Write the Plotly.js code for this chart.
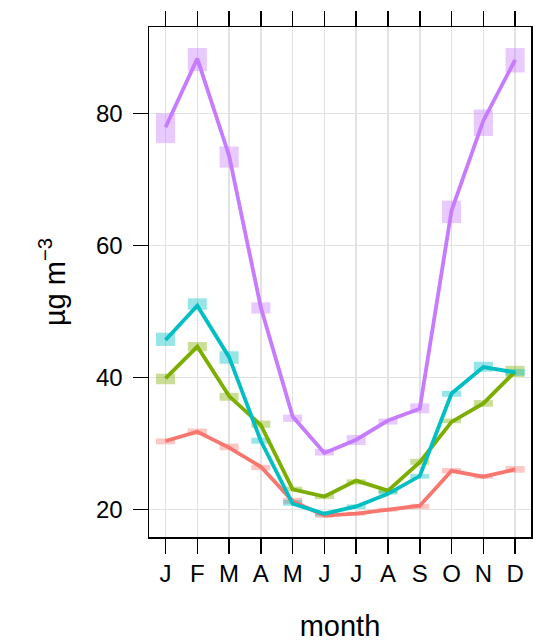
<!DOCTYPE html>
<html>
<head>
<meta charset="utf-8">
<script src="https://cdn.plot.ly/plotly-3.0.1.min.js"></script>
<style>
  html, body { margin: 0; padding: 0; background: #ffffff; }
  #chart { width: 533px; height: 642px; }
</style>
</head>
<body>
<div id="chart"></div>
<script>
// Monthly means with their confidence intervals, one group per colour
const months = [1, 2, 3, 4, 5, 6, 7, 8, 9, 10, 11, 12];
const monthLabels = ["J", "F", "M", "A", "M", "J", "J", "A", "S", "O", "N", "D"];

const redMean  = [30.4, 31.8, 29.4, 26.5, 21.3, 19.1, 19.4, 20.0, 20.6, 25.9, 25.0, 26.1];
const redLow   = [29.9, 31.3, 29.0, 26.0, 20.9, 18.8, 19.1, 19.7, 20.1, 25.5, 24.7, 25.6];
const redHigh  = [30.8, 32.3, 30.0, 26.8, 21.8, 19.4, 19.7, 20.3, 20.9, 26.3, 25.4, 26.6];

const greenMean = [39.9, 44.7, 37.2, 32.8, 23.1, 22.0, 24.4, 22.9, 27.2, 33.3, 36.1, 40.9];
const greenLow  = [39.0, 44.0, 36.5, 32.4, 22.8, 21.6, 23.8, 22.5, 26.8, 33.1, 35.6, 40.1];
const greenHigh = [40.6, 45.4, 37.7, 33.5, 23.5, 22.4, 24.6, 23.3, 27.7, 33.8, 36.6, 41.8];

const cyanMean = [45.7, 50.9, 43.1, 30.4, 20.9, 19.4, 20.5, 22.4, 25.1, 37.6, 41.6, 40.8];
const cyanLow  = [44.8, 50.3, 42.1, 30.0, 20.6, 19.0, 20.1, 22.3, 24.7, 37.1, 40.9, 40.3];
const cyanHigh = [46.8, 52.0, 44.0, 30.9, 21.5, 19.7, 20.8, 22.9, 25.4, 38.0, 42.4, 41.3];

const purpleMean = [77.9, 88.3, 73.6, 50.6, 34.1, 28.6, 30.6, 33.5, 35.3, 65.3, 78.9, 88.1];
const purpleLow  = [75.5, 86.4, 71.8, 49.7, 33.3, 28.2, 29.8, 32.9, 34.6, 63.4, 76.6, 86.2];
const purpleHigh = [80.0, 89.9, 75.0, 51.4, 34.4, 29.2, 31.3, 33.8, 36.1, 66.8, 80.6, 89.9];

const groups = [
  { name: "group 1", color: "#F8766D", mean: redMean,    low: redLow,    high: redHigh },
  { name: "group 2", color: "#7CAE00", mean: greenMean,  low: greenLow,  high: greenHigh },
  { name: "group 3", color: "#00BFC4", mean: cyanMean,   low: cyanLow,   high: cyanHigh },
  { name: "group 4", color: "#C77CFF", mean: purpleMean, low: purpleLow, high: purpleHigh }
];

const traces = [];
// interval boxes first so every line sits on top of them
groups.forEach(g => {
  traces.push({
    type: "bar",
    x: months,
    base: g.low,
    y: g.high.map((h, i) => h - g.low[i]),
    width: 0.6,
    marker: { color: g.color, line: { width: 0 } },
    opacity: 0.4,
    name: g.name + " interval",
    showlegend: false,
    hoverinfo: "skip"
  });
});
groups.forEach(g => {
  traces.push({
    type: "scatter",
    mode: "lines",
    x: months,
    y: g.mean,
    line: { color: g.color, width: 3.8 },
    name: g.name,
    showlegend: false
  });
});

const font = "Liberation Sans, Arial, Helvetica, sans-serif";

const layout = {
  width: 533,
  height: 642,
  margin: { l: 149, r: 2, t: 27, b: 105 },
  paper_bgcolor: "#ffffff",
  plot_bgcolor: "#ffffff",
  barmode: "overlay",
  showlegend: false,
  font: { family: font, color: "#000000" },
  xaxis: {
    range: [0.48, 12.5],
    tickmode: "array",
    tickvals: months,
    ticktext: monthLabels,
    ticks: "outside",
    ticklen: 15,
    tickwidth: 1.5,
    tickcolor: "#000000",
    tickfont: { size: 24, family: font },
    showline: true,
    linecolor: "#000000",
    linewidth: 1.5,
    mirror: "ticks",
    showgrid: true,
    gridcolor: "#e2e2e2",
    gridwidth: 1.5,
    zeroline: false,
    title: { text: "month", font: { size: 29, family: font }, standoff: 33 }
  },
  yaxis: {
    range: [15.87, 93.09],
    tickmode: "array",
    tickvals: [20, 40, 60, 80],
    ticks: "outside",
    ticklen: 15,
    tickwidth: 1.5,
    tickcolor: "#000000",
    tickfont: { size: 24, family: font },
    ticklabelstandoff: 5,
    showline: true,
    linecolor: "#000000",
    linewidth: 1.5,
    mirror: true,
    showgrid: true,
    gridcolor: "#e2e2e2",
    gridwidth: 1.5,
    zeroline: false,
    title: { text: "\u00b5g m<sup>\u22123</sup>", font: { size: 29, family: font }, standoff: 22 }
  }
};

Plotly.newPlot("chart", traces, layout, { displayModeBar: false, staticPlot: true });
</script>
</body>
</html>
